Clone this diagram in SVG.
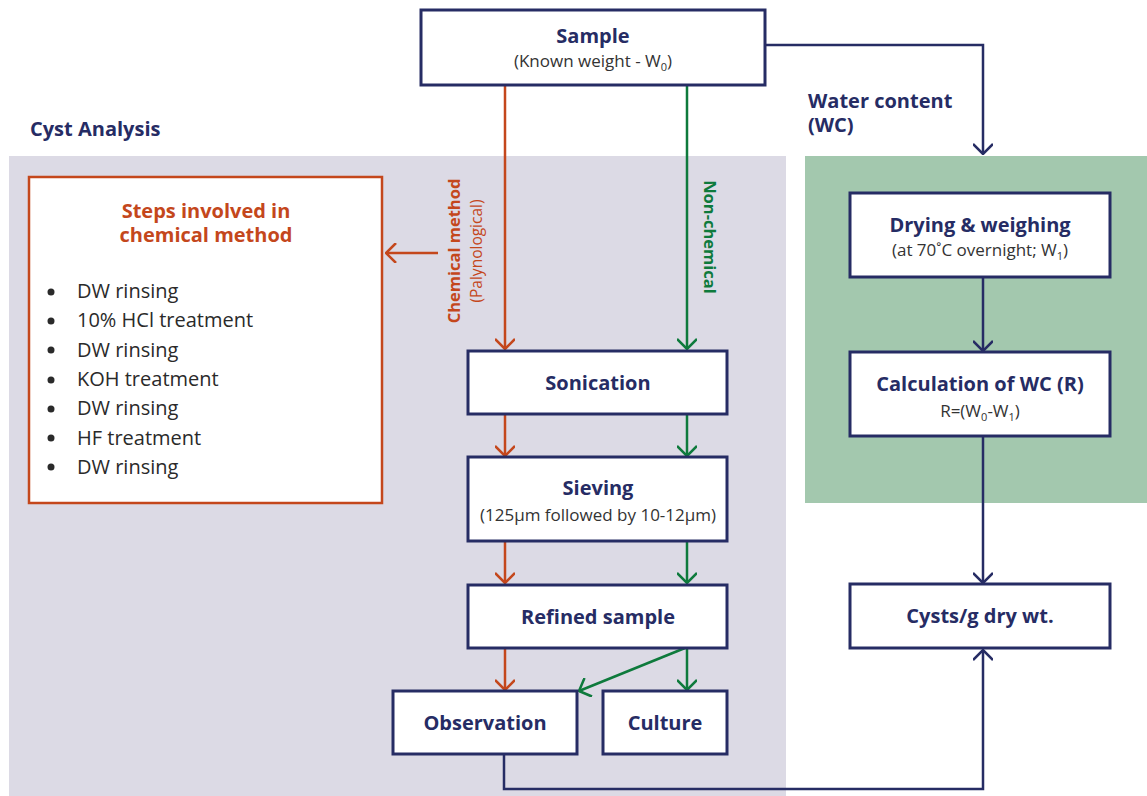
<svg xmlns="http://www.w3.org/2000/svg" width="1147" height="796" viewBox="0 0 1147 796">
<defs>
<style>
.box{fill:#fff;stroke:#262c64;stroke-width:3}
.obox{fill:#fff;stroke:#c4471c;stroke-width:2.5}
.t{font-family:"Open Sans",Lato,sans-serif;font-weight:bold;font-size:20px;fill:#262c64;text-anchor:middle}
.s{font-family:"Open Sans",Lato,sans-serif;font-size:17px;fill:#333;text-anchor:middle}
.b{font-family:"Open Sans",Lato,sans-serif;font-size:20px;fill:#2a2a2a}
.n{fill:none;stroke:#262c64;stroke-width:2.5}
.o{fill:none;stroke:#c4471c;stroke-width:2.5}
.g{fill:none;stroke:#0e7a3c;stroke-width:2.5}
</style>
<marker id="an" viewBox="0 0 12 20" refX="11" refY="10" markerWidth="12" markerHeight="20" markerUnits="userSpaceOnUse" orient="auto"><path d="M1,0 L11,10 L1,20" fill="none" stroke="#262c64" stroke-width="2.5"/></marker>
<marker id="ao" viewBox="0 0 12 20" refX="11" refY="10" markerWidth="12" markerHeight="20" markerUnits="userSpaceOnUse" orient="auto"><path d="M1,0 L11,10 L1,20" fill="none" stroke="#c4471c" stroke-width="2.5"/></marker>
<marker id="ag" viewBox="0 0 12 20" refX="11" refY="10" markerWidth="12" markerHeight="20" markerUnits="userSpaceOnUse" orient="auto"><path d="M1,0 L11,10 L1,20" fill="none" stroke="#0e7a3c" stroke-width="2.5"/></marker>
</defs>
<rect width="1147" height="796" fill="#fff"/>
<rect x="9" y="156" width="777" height="640" fill="#dcdae5"/>
<rect x="805" y="156" width="342" height="347" fill="#a3c8ae"/>
<text x="30" y="136" font-family="'Open Sans',Lato,sans-serif" font-weight="bold" font-size="20" fill="#262c64">Cyst Analysis</text>
<text font-family="'Open Sans',Lato,sans-serif" font-weight="bold" font-size="20" fill="#262c64"><tspan x="808" y="108">Water content</tspan><tspan x="808" y="132">(WC)</tspan></text>

<g id="connectors">
<path class="n" d="M765,45 H983 V154" marker-end="url(#an)"/>
<path class="o" d="M505,85 V349" marker-end="url(#ao)"/>
<path class="g" d="M687,85 V349" marker-end="url(#ag)"/>
<path class="o" d="M438,253 H386" marker-end="url(#ao)"/>
<path class="o" d="M505,414 V456" marker-end="url(#ao)"/>
<path class="g" d="M687,414 V456" marker-end="url(#ag)"/>
<path class="o" d="M505,541 V583" marker-end="url(#ao)"/>
<path class="g" d="M687,541 V583" marker-end="url(#ag)"/>
<path class="o" d="M505,648 V690" marker-end="url(#ao)"/>
<path class="g" d="M687,648 V690" marker-end="url(#ag)"/>
<path class="g" d="M685,648 L579,691" marker-end="url(#ag)"/>
<path class="n" d="M983,277 V351" marker-end="url(#an)"/>
<path class="n" d="M983,436 V583" marker-end="url(#an)"/>
<path class="n" d="M504,754 V789 H983 V650" marker-end="url(#an)"/>
</g>
<text transform="translate(460,251) rotate(-90)" font-family="'Open Sans',Lato,sans-serif" font-weight="bold" font-size="16.5" fill="#c4471c" text-anchor="middle">Chemical method</text>
<text transform="translate(482,251) rotate(-90)" font-family="'Open Sans',Lato,sans-serif" font-size="15.5" fill="#c4471c" text-anchor="middle">(Palynological)</text>
<text transform="translate(704,237) rotate(90)" font-family="'Open Sans',Lato,sans-serif" font-weight="bold" font-size="16.5" fill="#0e7a3c" text-anchor="middle">Non-chemical</text>

<g id="sample">
<rect class="box" x="421" y="10" width="344" height="75"/>
<text class="t" x="593" y="43">Sample</text>
<text class="s" x="593" y="67">(Known weight - W<tspan font-size="11" dy="4">0</tspan><tspan dy="-4">)</tspan></text>
</g>
<g id="steps">
<rect class="obox" x="29" y="177" width="353" height="326"/>
<text x="206" y="218" font-family="'Open Sans',Lato,sans-serif" font-weight="bold" font-size="20" fill="#c4471c" text-anchor="middle">Steps involved in</text>
<text x="206" y="242" font-family="'Open Sans',Lato,sans-serif" font-weight="bold" font-size="20" fill="#c4471c" text-anchor="middle">chemical method</text>
<g fill="#2a2a2a">
<circle cx="51" cy="292" r="3.5"/><circle cx="51" cy="321" r="3.5"/><circle cx="51" cy="350" r="3.5"/><circle cx="51" cy="380" r="3.5"/><circle cx="51" cy="409" r="3.5"/><circle cx="51" cy="438" r="3.5"/><circle cx="51" cy="467" r="3.5"/>
</g>
<text class="b" x="77" y="298">DW rinsing</text>
<text class="b" x="77" y="327">10% HCl treatment</text>
<text class="b" x="77" y="357">DW rinsing</text>
<text class="b" x="77" y="386">KOH treatment</text>
<text class="b" x="77" y="415">DW rinsing</text>
<text class="b" x="77" y="445">HF treatment</text>
<text class="b" x="77" y="474">DW rinsing</text>
</g>
<g id="sonication">
<rect class="box" x="468" y="351" width="259" height="63"/>
<text class="t" x="598" y="390">Sonication</text>
</g>
<g id="sieving">
<rect class="box" x="468" y="457" width="259" height="84"/>
<text class="t" x="598" y="495">Sieving</text>
<text class="s" x="598" y="521">(125µm followed by 10-12µm)</text>
</g>
<g id="refined">
<rect class="box" x="468" y="585" width="259" height="63"/>
<text class="t" x="598" y="624">Refined sample</text>
</g>
<g id="observation">
<rect class="box" x="393" y="691" width="184" height="63"/>
<text class="t" x="485" y="730">Observation</text>
</g>
<g id="culture">
<rect class="box" x="603" y="691" width="124" height="63"/>
<text class="t" x="665" y="730">Culture</text>
</g>
<g id="drying">
<rect class="box" x="850" y="193" width="260" height="84"/>
<text class="t" x="980" y="232">Drying &amp; weighing</text>
<text class="s" x="980" y="256">(at 70˚C overnight; W<tspan font-size="11" dy="4">1</tspan><tspan dy="-4">)</tspan></text>
</g>
<g id="calculation">
<rect class="box" x="850" y="352" width="260" height="84"/>
<text class="t" x="980" y="391">Calculation of WC (R)</text>
<text class="s" x="980" y="417">R=(W<tspan font-size="11" dy="4">0</tspan><tspan dy="-4">-W</tspan><tspan font-size="11" dy="4">1</tspan><tspan dy="-4">)</tspan></text>
</g>
<g id="cysts">
<rect class="box" x="850" y="584" width="260" height="64"/>
<text class="t" x="980" y="623">Cysts/g dry wt.</text>
</g>
</svg>
